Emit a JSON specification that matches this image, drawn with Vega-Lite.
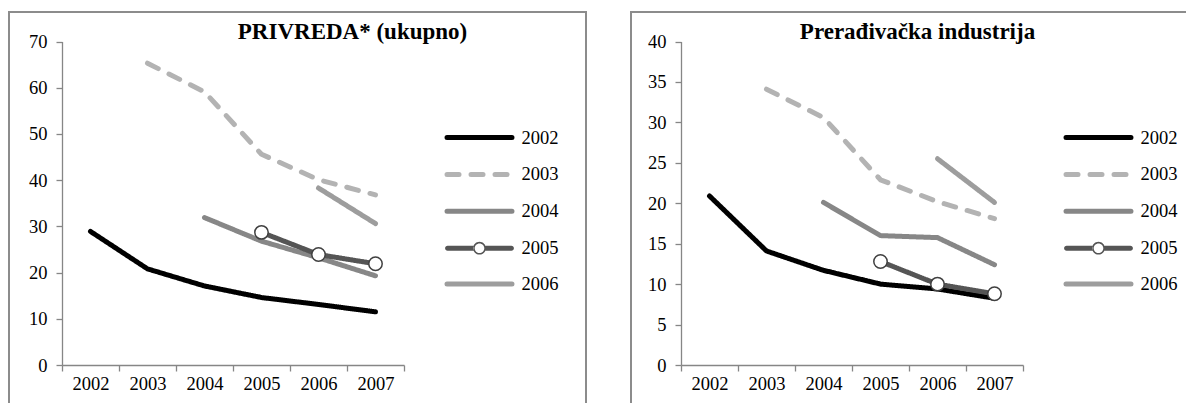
{
  "$schema": "https://vega.github.io/schema/vega-lite/v6.json",
  "padding": {"left": 8, "top": 11, "right": 0, "bottom": 0},
  "background": "white",
  "spacing": 43,
  "datasets": {
    "privreda": [
      {"series": "2002", "year": "2002", "value": 28.9},
      {"series": "2002", "year": "2003", "value": 20.8},
      {"series": "2002", "year": "2004", "value": 17.1},
      {"series": "2002", "year": "2005", "value": 14.6},
      {"series": "2002", "year": "2006", "value": 13.1},
      {"series": "2002", "year": "2007", "value": 11.5},
      {"series": "2003", "year": "2003", "value": 65.3},
      {"series": "2003", "year": "2004", "value": 59.1},
      {"series": "2003", "year": "2005", "value": 45.6},
      {"series": "2003", "year": "2006", "value": 40.1},
      {"series": "2003", "year": "2007", "value": 36.8},
      {"series": "2004", "year": "2004", "value": 31.9},
      {"series": "2004", "year": "2005", "value": 26.8},
      {"series": "2004", "year": "2006", "value": 23.2},
      {"series": "2004", "year": "2007", "value": 19.3},
      {"series": "2005", "year": "2005", "value": 28.7},
      {"series": "2005", "year": "2006", "value": 23.9},
      {"series": "2005", "year": "2007", "value": 21.9},
      {"series": "2006", "year": "2006", "value": 38.3},
      {"series": "2006", "year": "2007", "value": 30.6}
    ],
    "preradjivacka": [
      {"series": "2002", "year": "2002", "value": 20.9},
      {"series": "2002", "year": "2003", "value": 14.1},
      {"series": "2002", "year": "2004", "value": 11.7},
      {"series": "2002", "year": "2005", "value": 10.0},
      {"series": "2002", "year": "2006", "value": 9.4},
      {"series": "2002", "year": "2007", "value": 8.25},
      {"series": "2003", "year": "2003", "value": 34.1},
      {"series": "2003", "year": "2004", "value": 30.6},
      {"series": "2003", "year": "2005", "value": 22.9},
      {"series": "2003", "year": "2006", "value": 20.2},
      {"series": "2003", "year": "2007", "value": 18.1},
      {"series": "2004", "year": "2004", "value": 20.1},
      {"series": "2004", "year": "2005", "value": 16.0},
      {"series": "2004", "year": "2006", "value": 15.75},
      {"series": "2004", "year": "2007", "value": 12.4},
      {"series": "2005", "year": "2005", "value": 12.8},
      {"series": "2005", "year": "2006", "value": 10.0},
      {"series": "2005", "year": "2007", "value": 8.8},
      {"series": "2006", "year": "2006", "value": 25.5},
      {"series": "2006", "year": "2007", "value": 20.1}
    ]
  },
  "config": {
    "view": {"stroke": "#8c8c8c", "strokeWidth": 2},
    "axis": {
      "grid": false,
      "title": null,
      "labelFont": "Liberation Serif",
      "labelFontSize": 18.5,
      "labelColor": "#000000",
      "domainColor": "#868686",
      "domainWidth": 1.3,
      "tickColor": "#868686",
      "tickWidth": 1.3,
      "tickSize": 6
    },
    "legend": {
      "labelFont": "Liberation Serif",
      "labelFontSize": 18.5,
      "labelColor": "#000000"
    }
  },
  "hconcat": [
    {
      "width": 577,
      "height": 420,
      "data": {"name": "privreda"},
      "layer": [
        {
          "mark": {"type": "line", "strokeWidth": 5, "strokeCap": "round", "strokeJoin": "round"},
          "encoding": {
            "x": {"field": "year", "type": "ordinal", "bandPosition": 0.5,
                  "scale": {"type": "band", "domain": ["2002","2003","2004","2005","2006","2007"], "range": [53, 395], "paddingInner": 0, "paddingOuter": 0},
                  "axis": {"tickBand": "extent", "labelAngle": 0, "offset": -67, "labelPadding": 3,
                           "title": "PRIVREDA* (ukupno)", "titleFont": "Liberation Serif", "titleFontSize": 23, "titleFontWeight": "bold", "titleColor": "#000000",
                           "titleX": 343, "titleY": -327, "titleBaseline": "alphabetic", "titleAlign": "center", "titleAngle": 0}},
            "y": {"field": "value", "type": "quantitative",
                  "scale": {"domain": [0, 70], "range": [353, 29.5], "nice": false},
                  "axis": {"values": [0,10,20,30,40,50,60,70], "offset": -53, "labelPadding": 9}},
            "stroke": {"field": "series", "type": "nominal",
                       "scale": {"domain": ["2002","2003","2004","2005","2006"], "range": ["#000000","#b3b3b3","#878787","#555555","#9d9d9d"]},
                       "legend": {"orient": "none", "legendX": 460, "legendY": 115, "title": null, "padding": 0, "rowPadding": 15.9, "labelOffset": 31.5, "symbolType": "M-4.06,0H4.06", "symbolSize": 256, "symbolStrokeWidth": 5,
                                  "encode": {"symbols": {"update": {
                                    "shape": {"signal": "datum.value === '2005' ? 'M-0.76,-0.3125H-3.99A0.3125,0.3125 0 0 0 -3.99,0.3125H-0.76Z M0.76,-0.3125H3.99A0.3125,0.3125 0 0 1 3.99,0.3125H0.76Z M0.8,0A0.8,0.8 0 1 1 -0.8,0A0.8,0.8 0 1 1 0.8,0Z M0.6,0A0.6,0.6 0 1 0 -0.6,0A0.6,0.6 0 1 0 0.6,0Z' : 'M-4.06,0H4.06'"},
                                    "fill": {"signal": "datum.value === '2005' ? '#555555' : 'transparent'"},
                                    "strokeOpacity": {"signal": "datum.value === '2005' ? 0 : 1"},
                                    "strokeCap": {"value": "round"}}}}}},
            "strokeDash": {"field": "series", "type": "nominal",
                       "scale": {"domain": ["2002","2003","2004","2005","2006"], "range": [[1,0],[12,12],[1,0],[1,0],[1,0]]},
                       "legend": {"orient": "none", "legendX": 460, "legendY": 115, "title": null, "padding": 0, "rowPadding": 15.9, "labelOffset": 31.5, "symbolType": "M-4.06,0H4.06", "symbolSize": 256, "symbolStrokeWidth": 5,
                                  "encode": {"symbols": {"update": {
                                    "shape": {"signal": "datum.value === '2005' ? 'M-0.76,-0.3125H-3.99A0.3125,0.3125 0 0 0 -3.99,0.3125H-0.76Z M0.76,-0.3125H3.99A0.3125,0.3125 0 0 1 3.99,0.3125H0.76Z M0.8,0A0.8,0.8 0 1 1 -0.8,0A0.8,0.8 0 1 1 0.8,0Z M0.6,0A0.6,0.6 0 1 0 -0.6,0A0.6,0.6 0 1 0 0.6,0Z' : 'M-4.06,0H4.06'"},
                                    "fill": {"signal": "datum.value === '2005' ? '#555555' : 'transparent'"},
                                    "strokeOpacity": {"signal": "datum.value === '2005' ? 0 : 1"},
                                    "strokeCap": {"value": "round"}}}}}}
          }
        },
        {
          "transform": [{"filter": "datum.series === '2005'"}],
          "mark": {"type": "point", "filled": true, "fill": "#ffffff", "stroke": "#404040", "strokeWidth": 1.5, "size": 180, "opacity": 1},
          "encoding": {
            "x": {"field": "year", "type": "ordinal", "bandPosition": 0.5},
            "y": {"field": "value", "type": "quantitative"}
          }
        }
      ]
    },
    {
      "width": 577,
      "height": 420,
      "data": {"name": "preradjivacka"},
      "layer": [
        {
          "mark": {"type": "line", "strokeWidth": 5, "strokeCap": "round", "strokeJoin": "round"},
          "encoding": {
            "x": {"field": "year", "type": "ordinal", "bandPosition": 0.5,
                  "scale": {"type": "band", "domain": ["2002","2003","2004","2005","2006","2007"], "range": [50, 392], "paddingInner": 0, "paddingOuter": 0},
                  "axis": {"tickBand": "extent", "labelAngle": 0, "offset": -67, "labelPadding": 3,
                           "title": "Prerađivačka industrija", "titleFont": "Liberation Serif", "titleFontSize": 23, "titleFontWeight": "bold", "titleColor": "#000000",
                           "titleX": 286, "titleY": -327, "titleBaseline": "alphabetic", "titleAlign": "center", "titleAngle": 0}},
            "y": {"field": "value", "type": "quantitative",
                  "scale": {"domain": [0, 40], "range": [353, 29.5], "nice": false},
                  "axis": {"values": [0,5,10,15,20,25,30,35,40], "offset": -50, "labelPadding": 9}},
            "stroke": {"field": "series", "type": "nominal",
                       "scale": {"domain": ["2002","2003","2004","2005","2006"], "range": ["#000000","#b3b3b3","#878787","#555555","#9d9d9d"]},
                       "legend": {"orient": "none", "legendX": 457, "legendY": 115, "title": null, "padding": 0, "rowPadding": 15.9, "labelOffset": 31.5, "symbolType": "M-4.06,0H4.06", "symbolSize": 256, "symbolStrokeWidth": 5,
                                  "encode": {"symbols": {"update": {
                                    "shape": {"signal": "datum.value === '2005' ? 'M-0.76,-0.3125H-3.99A0.3125,0.3125 0 0 0 -3.99,0.3125H-0.76Z M0.76,-0.3125H3.99A0.3125,0.3125 0 0 1 3.99,0.3125H0.76Z M0.8,0A0.8,0.8 0 1 1 -0.8,0A0.8,0.8 0 1 1 0.8,0Z M0.6,0A0.6,0.6 0 1 0 -0.6,0A0.6,0.6 0 1 0 0.6,0Z' : 'M-4.06,0H4.06'"},
                                    "fill": {"signal": "datum.value === '2005' ? '#555555' : 'transparent'"},
                                    "strokeOpacity": {"signal": "datum.value === '2005' ? 0 : 1"},
                                    "strokeCap": {"value": "round"}}}}}},
            "strokeDash": {"field": "series", "type": "nominal",
                       "scale": {"domain": ["2002","2003","2004","2005","2006"], "range": [[1,0],[12,12],[1,0],[1,0],[1,0]]},
                       "legend": {"orient": "none", "legendX": 457, "legendY": 115, "title": null, "padding": 0, "rowPadding": 15.9, "labelOffset": 31.5, "symbolType": "M-4.06,0H4.06", "symbolSize": 256, "symbolStrokeWidth": 5,
                                  "encode": {"symbols": {"update": {
                                    "shape": {"signal": "datum.value === '2005' ? 'M-0.76,-0.3125H-3.99A0.3125,0.3125 0 0 0 -3.99,0.3125H-0.76Z M0.76,-0.3125H3.99A0.3125,0.3125 0 0 1 3.99,0.3125H0.76Z M0.8,0A0.8,0.8 0 1 1 -0.8,0A0.8,0.8 0 1 1 0.8,0Z M0.6,0A0.6,0.6 0 1 0 -0.6,0A0.6,0.6 0 1 0 0.6,0Z' : 'M-4.06,0H4.06'"},
                                    "fill": {"signal": "datum.value === '2005' ? '#555555' : 'transparent'"},
                                    "strokeOpacity": {"signal": "datum.value === '2005' ? 0 : 1"},
                                    "strokeCap": {"value": "round"}}}}}}
          }
        },
        {
          "transform": [{"filter": "datum.series === '2005'"}],
          "mark": {"type": "point", "filled": true, "fill": "#ffffff", "stroke": "#404040", "strokeWidth": 1.5, "size": 180, "opacity": 1},
          "encoding": {
            "x": {"field": "year", "type": "ordinal", "bandPosition": 0.5},
            "y": {"field": "value", "type": "quantitative"}
          }
        }
      ]
    }
  ],
  "resolve": {
    "scale": {"x": "independent", "y": "independent", "stroke": "independent", "strokeDash": "independent"},
    "legend": {"stroke": "independent", "strokeDash": "independent"}
  }
}
